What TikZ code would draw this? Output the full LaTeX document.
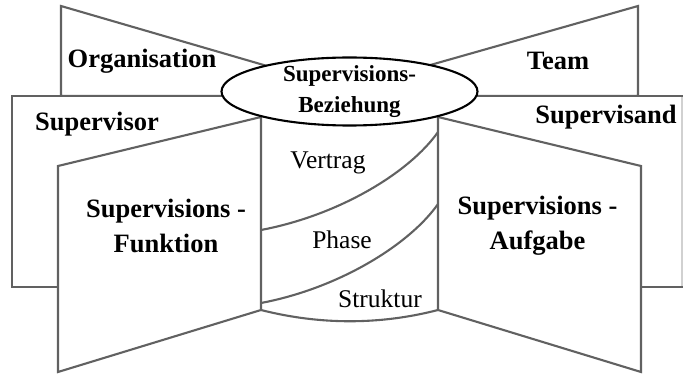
\documentclass[tikz,border=0pt]{standalone}
\usepackage{fontspec}
\setmainfont{Liberation Serif}
\tikzset{
  panel/.style={draw=black!62, line width=2.1pt, fill=white, line join=miter},
  curveline/.style={draw=black!62, line width=2.1pt},
  biglabel/.style={font=\fontsize{26.5}{35}\selectfont\bfseries, align=center, inner sep=0pt},
  ellabel/.style={font=\fontsize{23}{31}\selectfont\bfseries, align=center, inner sep=0pt},
  midlabel/.style={font=\fontsize{25.5}{28}\selectfont, inner sep=0pt}
}
\begin{document}
\begin{tikzpicture}[x=1pt,y=-1pt]
\useasboundingbox (0,0) rectangle (683,374);
% back panels
\path[panel] (61,6) -- (275,68.3) -- (275,96) -- (61,96) -- cycle;
\path[panel] (638,6) -- (424,66.8) -- (424,96) -- (638,96) -- cycle;
\path[panel] (12,96) rectangle (261,287);
\fill[white] (438,96) rectangle (682,287);
\draw[black!18, line width=1.2pt] (682,96) -- (682,287);
\draw[curveline, line cap=rect] (682,96) -- (438,96) -- (438,287) -- (682,287);
% front panels
\path[panel] (58,166) -- (261,117) -- (261,310) -- (58,372) -- cycle;
\path[panel] (438,117) -- (641,166) -- (641,372) -- (438,310) -- cycle;
% middle curves
\draw[curveline] (261,230) .. controls (340,215) and (410,172) .. (438,132);
\draw[curveline] (261,303) .. controls (340,288) and (410,244) .. (438,204);
\draw[curveline] (261,310) .. controls (320,325) and (380,325) .. (438,310);
% ellipse
\draw[line width=2.1pt, fill=white] (349.5,91.5) ellipse [x radius=128, y radius=34];
% labels
\node[biglabel] (org) at (142,61) {Organisation};
\node[biglabel] (team) at (558,61) {Team};
\node[biglabel] (svor) at (97,124) {Supervisor};
\node[biglabel] (svand) at (606,117) {Supervisand};
\node[biglabel] (funk) at (166,225.5) {Supervisions -\\Funktion};
\node[biglabel] (aufg) at (537.5,225.5) {Supervisions -\\Aufgabe};
\node[ellabel] (bez) at (349.5,92) {Supervisions-\\Beziehung};
\node[midlabel] (vertrag) at (328,163) {Vertrag};
\node[midlabel] (phase) at (342,240) {Phase};
\node[midlabel] (struktur) at (380,299) {Struktur};
\end{tikzpicture}
\end{document}
